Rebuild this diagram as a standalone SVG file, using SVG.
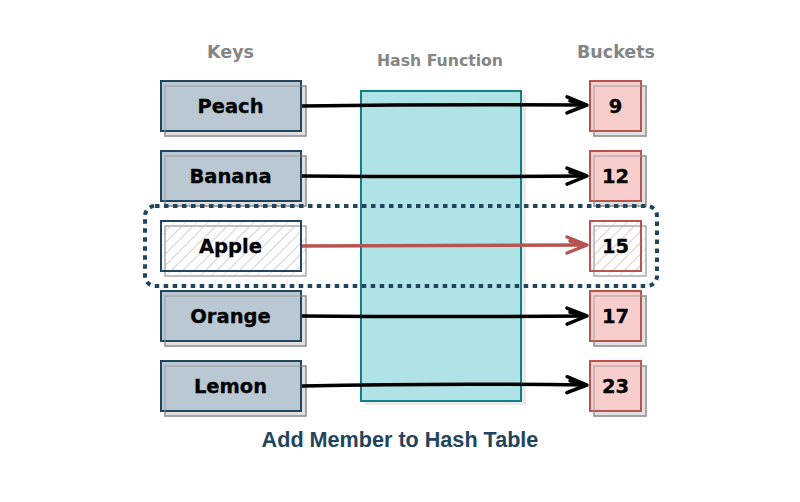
<svg xmlns="http://www.w3.org/2000/svg" width="800" height="502" viewBox="0 0 800 502">
<style>
.hdr{font-family:"DejaVu Sans",Verdana,sans-serif;font-weight:bold;fill:#858585;text-anchor:middle}
.lbl{font-family:"DejaVu Sans",Verdana,sans-serif;font-weight:bold;font-size:19.5px;fill:#000;stroke:#000;stroke-width:0.3;text-anchor:middle}
.key{fill:#bac8d3;stroke:#23445d;stroke-width:2}
.keyh{fill:url(#hatchGray);stroke:#23445d;stroke-width:2}
.bkt{fill:#f8cecc;stroke:#b85450;stroke-width:2}
.bkth{fill:url(#hatchPink);stroke:#b85450;stroke-width:2}
.shd{fill:#000;fill-opacity:0.12;stroke:#999;stroke-width:1.5}
.shdh{fill:url(#hatchGray);stroke:#aaa;stroke-width:1.5}
.shl{fill:none;stroke:#999;stroke-opacity:0.6;stroke-width:1.5}
.edge{fill:none;stroke:#000;stroke-width:3.5}
.edgeR{fill:none;stroke:#b85450;stroke-width:3.5}
</style>
<defs>
<pattern id="hatchGray" patternUnits="userSpaceOnUse" width="8" height="8" patternTransform="rotate(45)">
<line x1="0" y1="0" x2="0" y2="8" stroke="#c8c8c8" stroke-width="1"/>
</pattern>
<pattern id="hatchPink" patternUnits="userSpaceOnUse" width="8" height="8" patternTransform="rotate(45)">
<line x1="0" y1="0" x2="0" y2="8" stroke="#f0b4b2" stroke-width="1"/>
</pattern>
<marker id="arrK" viewBox="-4 -4 28 24" markerWidth="28" markerHeight="24" refX="20" refY="8" orient="auto" markerUnits="userSpaceOnUse">
<path d="M0,0 L20,8 L0,16 M3,4 L18,8" fill="none" stroke="#000" stroke-width="3.5" stroke-linejoin="round" stroke-linecap="round"/>
</marker>
<marker id="arrR" viewBox="-4 -4 28 24" markerWidth="28" markerHeight="24" refX="20" refY="8" orient="auto" markerUnits="userSpaceOnUse">
<path d="M0,0 L20,8 L0,16 M3,4 L18,8" fill="none" stroke="#b85450" stroke-width="3.5" stroke-linejoin="round" stroke-linecap="round"/>
</marker>
</defs>

<text class="hdr" x="230.5" y="58" font-size="17.5">Keys</text>
<text class="hdr" x="440" y="66" font-size="15.7">Hash Function</text>
<text class="hdr" x="616" y="58" font-size="17.5">Buckets</text>

<g id="hash-function">
<rect x="365" y="95" width="161" height="310" fill="#000" fill-opacity="0.08"/>
<rect x="361" y="91" width="160" height="310" fill="#b0e3e6" stroke="#0e8088" stroke-width="2"/>
</g>

<g id="key-peach">
<rect class="shd" x="165" y="86" width="141" height="50"/>
<rect class="key" x="161" y="81" width="140" height="50"/>
<rect class="shl" x="165" y="86" width="141" height="50"/>
<text class="lbl" x="230.5" y="113">Peach</text>
</g>
<g id="key-banana">
<rect class="shd" x="165" y="156" width="141" height="50"/>
<rect class="key" x="161" y="151" width="140" height="50"/>
<rect class="shl" x="165" y="156" width="141" height="50"/>
<text class="lbl" x="230.5" y="183">Banana</text>
</g>
<g id="key-apple">
<rect class="shdh" x="165" y="226" width="141" height="50"/>
<rect class="keyh" x="161" y="221" width="140" height="50"/>
<text class="lbl" x="230.5" y="253">Apple</text>
</g>
<g id="key-orange">
<rect class="shd" x="165" y="296" width="141" height="50"/>
<rect class="key" x="161" y="291" width="140" height="50"/>
<rect class="shl" x="165" y="296" width="141" height="50"/>
<text class="lbl" x="230.5" y="323">Orange</text>
</g>
<g id="key-lemon">
<rect class="shd" x="165" y="366" width="141" height="50"/>
<rect class="key" x="161" y="361" width="140" height="50"/>
<rect class="shl" x="165" y="366" width="141" height="50"/>
<text class="lbl" x="230.5" y="393">Lemon</text>
</g>

<g id="bucket-9">
<rect class="shd" x="594" y="86" width="52" height="50"/>
<rect class="bkt" x="590" y="81" width="51" height="50"/>
<rect class="shl" x="594" y="86" width="52" height="50"/>
<text class="lbl" x="615.5" y="113">9</text>
</g>
<g id="bucket-12">
<rect class="shd" x="594" y="156" width="52" height="50"/>
<rect class="bkt" x="590" y="151" width="51" height="50"/>
<rect class="shl" x="594" y="156" width="52" height="50"/>
<text class="lbl" x="615.5" y="183">12</text>
</g>
<g id="bucket-15">
<rect class="shdh" x="594" y="226" width="52" height="50"/>
<rect class="bkth" x="590" y="221" width="51" height="50"/>
<text class="lbl" x="615.5" y="253">15</text>
</g>
<g id="bucket-17">
<rect class="shd" x="594" y="296" width="52" height="50"/>
<rect class="bkt" x="590" y="291" width="51" height="50"/>
<rect class="shl" x="594" y="296" width="52" height="50"/>
<text class="lbl" x="615.5" y="323">17</text>
</g>
<g id="bucket-23">
<rect class="shd" x="594" y="366" width="52" height="50"/>
<rect class="bkt" x="590" y="361" width="51" height="50"/>
<rect class="shl" x="594" y="366" width="52" height="50"/>
<text class="lbl" x="615.5" y="393">23</text>
</g>

<g id="highlight">
<rect x="145" y="206" width="512" height="80" rx="10" ry="10" fill="none" stroke="#23445d" stroke-width="4" stroke-dasharray="4.5 4.5"/>
</g>

<g id="connectors">
<path class="edge" d="M302,106 Q440,104 587,105" marker-end="url(#arrK)"/>
<path class="edge" d="M302,176 Q440,177 587,176" marker-end="url(#arrK)"/>
<path class="edgeR" d="M302,246 Q440,245 587,245" marker-end="url(#arrR)"/>
<path class="edge" d="M302,316 Q440,317 587,316" marker-end="url(#arrK)"/>
<path class="edge" d="M302,386 Q440,383 587,385" marker-end="url(#arrK)"/>
</g>

<text x="400" y="447" text-anchor="middle" font-family="'Liberation Sans',Arial,Helvetica,sans-serif" font-weight="bold" font-size="21.6" fill="#23445d">Add Member to Hash Table</text>
</svg>
